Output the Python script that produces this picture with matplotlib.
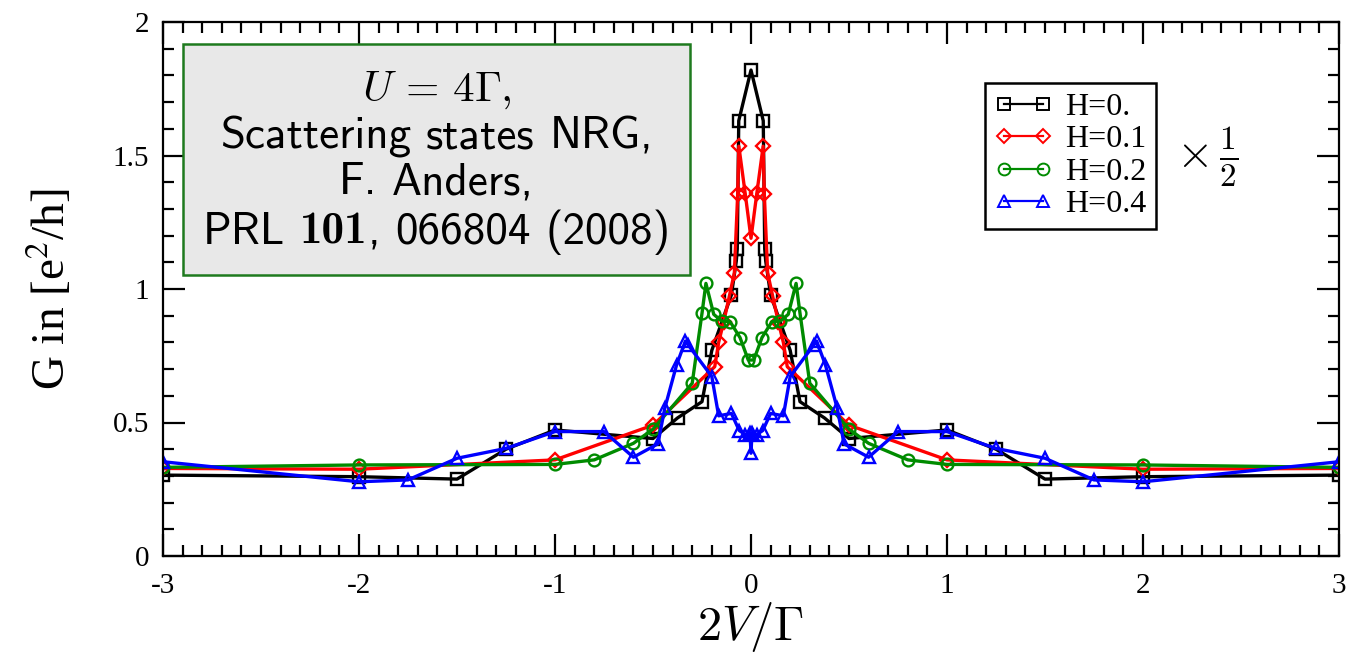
import os
import matplotlib
matplotlib.use("Agg")
import matplotlib.pyplot as plt
from matplotlib.patches import Rectangle
from matplotlib.ticker import MultipleLocator
from matplotlib.font_manager import FontProperties
from matplotlib.offsetbox import TextArea, HPacker, AnchoredOffsetbox

plt.rcParams['font.family'] = 'Liberation Serif'
plt.rcParams['mathtext.fontset'] = 'cm'

# conductance curves, G in units of e^2/h (x 1/2), vs 2V/Gamma
v_h0 = [-3, -2, -1.5, -1.25, -1, -0.5, -0.375, -0.25, -0.2, -0.1, -0.075, -0.07, -0.0625,
        0, 0.0625, 0.07, 0.075, 0.1, 0.2, 0.25, 0.375, 0.5, 1, 1.25, 1.5, 2, 3]
g_h0 = [0.303, 0.297, 0.288, 0.40, 0.472, 0.44, 0.517, 0.578, 0.77, 0.978, 1.105, 1.15, 1.63,
        1.82, 1.63, 1.15, 1.105, 0.978, 0.77, 0.578, 0.517, 0.44, 0.472, 0.40, 0.288, 0.297, 0.303]

v_h1 = [-3, -2, -1, -0.5, -0.185, -0.165, -0.14, -0.11, -0.085, -0.068, -0.062, -0.03,
        0, 0.03, 0.062, 0.068, 0.085, 0.11, 0.14, 0.165, 0.185, 0.5, 1, 2, 3]
g_h1 = [0.328, 0.325, 0.36, 0.49, 0.709, 0.80, 0.875, 0.975, 1.06, 1.355, 1.535, 1.36,
        1.19, 1.36, 1.535, 1.355, 1.06, 0.975, 0.875, 0.80, 0.709, 0.49, 0.36, 0.325, 0.328]

v_h2 = [-3, -2, -1, -0.8, -0.6, -0.5, -0.3, -0.25, -0.23, -0.19, -0.15, -0.107, -0.056, -0.014,
        0.014, 0.056, 0.107, 0.15, 0.19, 0.23, 0.25, 0.3, 0.5, 0.6, 0.8, 1, 2, 3]
g_h2 = [0.332, 0.341, 0.343, 0.36, 0.422, 0.475, 0.647, 0.909, 1.021, 0.905, 0.88, 0.878, 0.818, 0.734,
        0.734, 0.818, 0.878, 0.88, 0.905, 1.021, 0.909, 0.647, 0.475, 0.422, 0.36, 0.343, 0.341, 0.332]

v_h4 = [-3, -2, -1.75, -1.5, -1.25, -1, -0.75, -0.6, -0.475, -0.44, -0.38, -0.335, -0.32, -0.2,
        -0.165, -0.1, -0.06, -0.03, -0.005, 0, 0.005, 0.03, 0.06, 0.1, 0.165, 0.2, 0.32, 0.335,
        0.38, 0.44, 0.475, 0.6, 0.75, 1, 1.25, 1.5, 1.75, 2, 3]
g_h4 = [0.353, 0.278, 0.285, 0.366, 0.403, 0.466, 0.466, 0.37, 0.42, 0.553, 0.715, 0.805, 0.79, 0.672,
        0.525, 0.534, 0.47, 0.455, 0.46, 0.385, 0.46, 0.455, 0.47, 0.534, 0.525, 0.672, 0.79, 0.805,
        0.715, 0.553, 0.42, 0.37, 0.466, 0.466, 0.403, 0.366, 0.285, 0.278, 0.353]

series = [
    (v_h0, g_h0, 'H=0.', 'black', 's', 8.5),
    (v_h1, g_h1, 'H=0.1', '#ff0000', 'D', 7),
    (v_h2, g_h2, 'H=0.2', '#008b00', 'o', 8.5),
    (v_h4, g_h4, 'H=0.4', '#0000ff', '^', 9),
]

fig = plt.figure(figsize=(13.49, 6.53), dpi=100)
ax = fig.add_axes([163 / 1349, 1 - 556 / 653, 1176 / 1349, 534 / 653])

for v, g, lab, col, mk, ms in series:
    ax.plot(v, g, color=col, lw=2.4, marker=mk, ms=ms, mfc='none', mec=col, mew=1.7, label=lab)

ax.set_xlim(-3, 3)
ax.set_ylim(0, 2)
ax.xaxis.set_minor_locator(MultipleLocator(0.1))
ax.yaxis.set_minor_locator(MultipleLocator(0.1))
ax.set_xticks([-3, -2, -1, 0, 1, 2, 3])
ax.set_xticklabels(['-3', '-2', '-1', '0', '1', '2', '3'])
ax.set_yticks([0, 0.5, 1, 1.5, 2])
ax.set_yticklabels(['0', '0.5', '1', '1.5', '2'])
ax.tick_params(which='both', direction='in', top=True, right=True, width=1.6, labelsize=21)
ax.tick_params(which='major', length=16)
ax.tick_params(which='minor', length=8)
ax.tick_params(axis='x', pad=12)
ax.tick_params(axis='y', pad=10)
for s in ax.spines.values():
    s.set_linewidth(1.6)

ax.set_xlabel(r'$2V/\Gamma$', fontsize=35)
ax.xaxis.set_label_coords(0.5, -0.082)
ax.set_ylabel(r'G in [e$^2$/h]', fontsize=34, math_fontfamily='stix')
ax.yaxis.set_label_coords(-0.075, 0.5)

leg = ax.legend(loc='upper left', bbox_to_anchor=(0.699, 0.886), borderaxespad=0,
                fontsize=23, numpoints=2, handlelength=1.8, handletextpad=0.4,
                labelspacing=0.1, fancybox=False, framealpha=1, edgecolor='black',
                borderpad=0.3)
leg.get_frame().set_linewidth(1.8)
for h in leg.get_lines():
    h.set_linewidth(1.6)
    h.set_markeredgewidth(1.4)
ax.text(0.861, 0.745, r'$\times\,\frac{1}{2}$', transform=ax.transAxes, fontsize=34,
        ha='left', va='center')

# reference box
ax.add_patch(Rectangle((0.017, 0.526), 0.431, 0.433, transform=ax.transAxes,
                       facecolor='#e8e8e8', edgecolor='#1e7a1e', lw=1.8, zorder=5))
ax.text(0.2326, 0.873, r'$U\, =\, 4\Gamma,$', transform=ax.transAxes, fontsize=31,
        ha='center', va='center', zorder=6)

fontdir = os.path.join(matplotlib.get_data_path(), 'fonts', 'ttf')
box_size = 32.5
sans = FontProperties(fname=os.path.join(fontdir, 'cmss10.ttf'), size=box_size)
bold = FontProperties(fname=os.path.join(fontdir, 'cmb10.ttf'), size=box_size)


def word_line(words, y):
    parts = [TextArea(w, textprops=dict(fontproperties=fp)) for w, fp in words]
    row = HPacker(children=parts, align='baseline', pad=0, sep=0.33 * box_size)
    ab = AnchoredOffsetbox(loc='center', child=row, pad=0, borderpad=0, frameon=False,
                           bbox_to_anchor=(0.2326, y), bbox_transform=ax.transAxes)
    ab.set_zorder(6)
    ax.add_artist(ab)


word_line([('Scattering', sans), ('states', sans), ('NRG,', sans)], 0.785)
word_line([('F.', sans), ('Anders,', sans)], 0.699)
pub = HPacker(children=[TextArea('101', textprops=dict(fontproperties=bold)),
                        TextArea(',', textprops=dict(fontproperties=sans))],
              align='baseline', pad=0, sep=0)
row = HPacker(children=[TextArea('PRL', textprops=dict(fontproperties=sans)), pub,
                        TextArea('066804', textprops=dict(fontproperties=sans)),
                        TextArea('(2008)', textprops=dict(fontproperties=sans))],
              align='baseline', pad=0, sep=0.33 * box_size)
ab = AnchoredOffsetbox(loc='center', child=row, pad=0, borderpad=0, frameon=False,
                       bbox_to_anchor=(0.2326, 0.607), bbox_transform=ax.transAxes)
ab.set_zorder(6)
ax.add_artist(ab)

fig.savefig('out.png', dpi=100)
